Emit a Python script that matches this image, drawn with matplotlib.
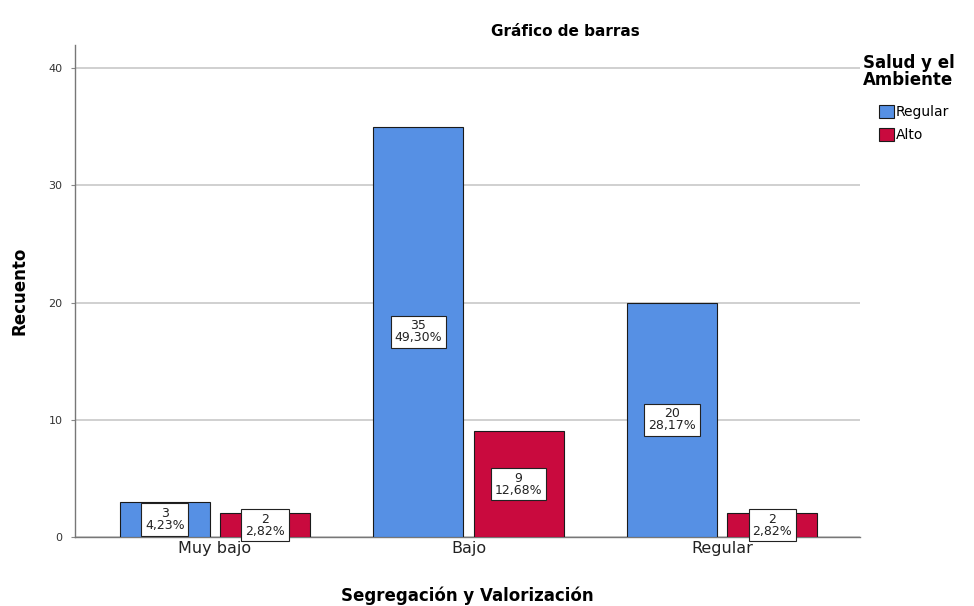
import matplotlib
matplotlib.use("Agg")
import matplotlib.pyplot as plt
import numpy as np
from matplotlib.patches import Patch

categories = ["Muy bajo", "Bajo", "Regular"]
series_names = ["Regular", "Alto"]
regular_counts = [3, 35, 20]
alto_counts = [2, 9, 2]
regular_pct = ["4,23%", "49,30%", "28,17%"]
alto_pct = ["2,82%", "12,68%", "2,82%"]
yticks = [0, 10, 20, 30, 40]

colors = ["#5690E4", "#C90A3E"]

fig = plt.figure(figsize=(9.74, 6.06), dpi=100)
ax = fig.add_axes([0.077, 0.114, 0.806, 0.812])

x = np.arange(len(categories))
w = 0.355
gap = 0.04
offsets = [-(w + gap) / 2, (w + gap) / 2]
data = [regular_counts, alto_counts]
pcts = [regular_pct, alto_pct]

for i in range(2):
    bars = ax.bar(x + offsets[i], data[i], width=w, color=colors[i],
                  edgecolor="#1a1a1a", linewidth=0.8, zorder=3)
    for b, v, p in zip(bars, data[i], pcts[i]):
        ax.text(b.get_x() + b.get_width() / 2, v / 2, f"{v}\n{p}",
                ha="center", va="center", fontsize=9, linespacing=0.9,
                color="#222222", zorder=4,
                bbox=dict(boxstyle="square,pad=0.3", facecolor="white",
                          edgecolor="#222222", linewidth=0.8))

ax.set_xlim(-0.552, 2.544)
ax.set_ylim(0, 42)
ax.set_yticks(yticks)
ax.set_yticklabels([str(t) for t in yticks], fontsize=8, color="#333333")
ax.set_xticks(x)
ax.set_xticklabels(categories, fontsize=11.5, color="#222222")
ax.tick_params(axis="x", length=0, pad=3)
ax.tick_params(axis="y", length=3, color="#888888", pad=6)
ax.grid(axis="y", color="#c8c8c8", linewidth=1.2, zorder=0)
for s in ["top", "right"]:
    ax.spines[s].set_visible(False)
for s in ["left", "bottom"]:
    ax.spines[s].set_color("#777777")
    ax.spines[s].set_linewidth(1.0)

ax.set_ylabel("Recuento", fontsize=12, fontweight="bold", labelpad=14)
ax.set_xlabel("Segregación y Valorización", fontsize=12, fontweight="bold", labelpad=22)
fig.text(0.58, 0.948, "Gráfico de barras", ha="center", va="center",
         fontsize=11, fontweight="bold")

fig.text(0.886, 0.882, "Salud y el\nAmbiente", ha="left", va="center",
         fontsize=12, fontweight="bold", linespacing=0.95)
handles = [Patch(facecolor=colors[i], edgecolor="#1a1a1a", linewidth=0.8)
           for i in range(2)]
leg = fig.legend(handles, series_names, loc="upper left",
                 bbox_to_anchor=(0.902, 0.827), frameon=False,
                 fontsize=10, handlelength=1.1, handleheight=1.1,
                 handletextpad=0.15, labelspacing=0.6, borderpad=0.0,
                 borderaxespad=0.0)

fig.savefig("out.png", dpi=100)
